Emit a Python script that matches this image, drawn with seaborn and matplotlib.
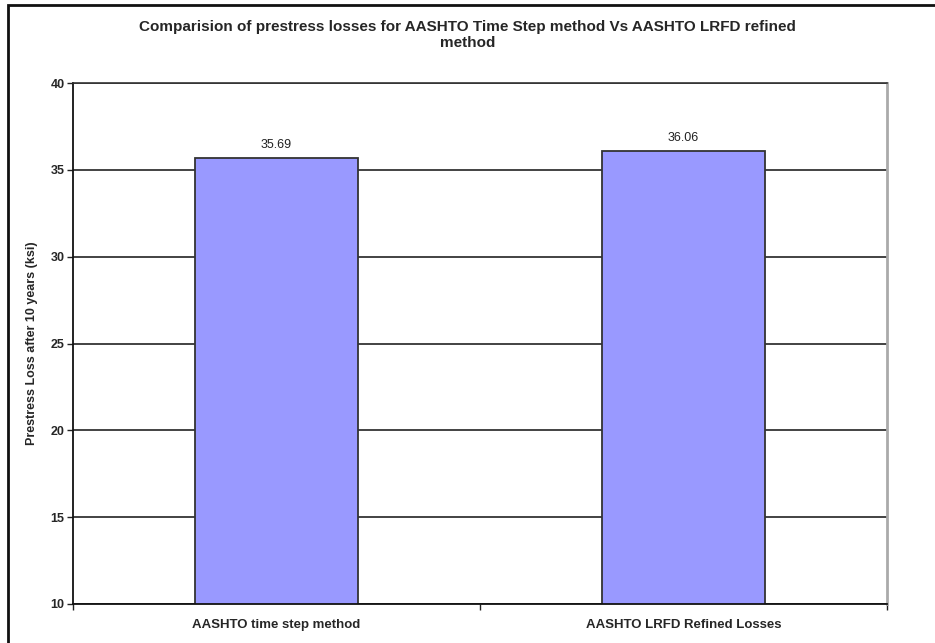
import matplotlib
matplotlib.use("Agg")
import matplotlib.pyplot as plt
from matplotlib.patches import Rectangle
import pandas as pd
import seaborn as sns

# Data
methods = ['AASHTO time step method', 'AASHTO LRFD Refined Losses']
losses = [35.69, 36.06]
yticks = [10, 15, 20, 25, 30, 35, 40]

sns.set_style("white")
plt.rcParams['font.family'] = ['Liberation Sans', 'DejaVu Sans']

df = pd.DataFrame({'Method': methods, 'Loss': losses})

fig = plt.figure(figsize=(9.35, 6.43), dpi=100)
ax = fig.add_axes([73 / 935, 1 - 604 / 643, 814 / 935, (604 - 83) / 643])

# gridlines behind bars
ax.set_axisbelow(True)
ax.yaxis.grid(True, color='#222222', linewidth=1.2)

sns.barplot(data=df, x='Method', y='Loss', color='#9999FF', saturation=1,
            width=0.4, edgecolor='#333333', linewidth=1.3, ax=ax)

ax.set_ylim(10, 40)
ax.set_yticks(yticks)
ax.set_xlim(-0.5, 1.5)

# value labels
for i, v in enumerate(losses):
    ax.text(i, v + 0.4, f'{v:.2f}', ha='center', va='bottom', fontsize=9, color='#222222')

ax.set_xlabel('')
ax.set_ylabel('Prestress Loss after 10 years (ksi)', fontsize=9, fontweight='bold', labelpad=9)
for lab in ax.get_yticklabels():
    lab.set_fontweight('bold')
    lab.set_fontsize(9)

# ticks: y outward, x ticks at category boundaries
ax.tick_params(axis='y', direction='out', length=4, width=1, color='#222222', pad=2, left=True)
ax.set_xticks([-0.5, 0.5, 1.5], minor=False, labels=['', '', ''])
ax.set_xticks([0, 1], minor=True, labels=methods)
ax.tick_params(axis='x', which='major', direction='out', length=4, width=1, color='#222222', bottom=True)
ax.tick_params(axis='x', which='minor', length=0, pad=11, labelsize=9.5)
for lab in ax.get_xticklabels(minor=True):
    lab.set_fontweight('bold')

for side in ['left', 'bottom']:
    ax.spines[side].set_color('#111111')
    ax.spines[side].set_linewidth(1.3)
ax.spines['top'].set_color('#333333')
ax.spines['top'].set_linewidth(1.2)
ax.spines['right'].set_color('#aaaaaa')
ax.spines['right'].set_linewidth(2)

fig.suptitle('Comparision of prestress losses for AASHTO Time Step method Vs AASHTO LRFD refined\nmethod',
             y=1 - 20 / 643, fontsize=11, fontweight='bold', linespacing=1.15)

# outer chart frame (cropped on right and bottom)
fig.patches.append(Rectangle((8 / 935, -0.1), 1.2, 1.1 - 5 / 643, transform=fig.transFigure,
                             fill=False, edgecolor='#111111', linewidth=2))

plt.savefig('out.png', dpi=100)
plt.close()
